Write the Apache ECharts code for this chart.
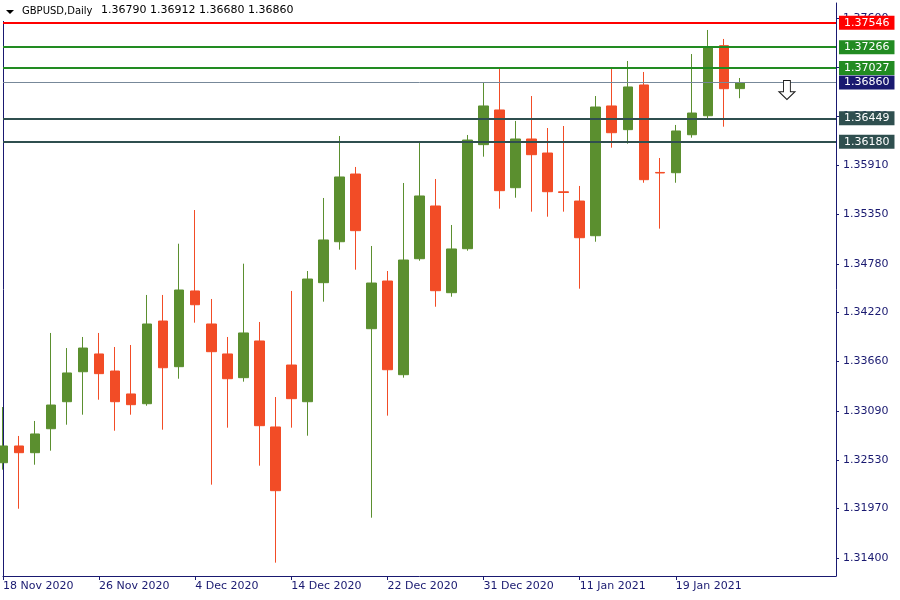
<!DOCTYPE html>
<html><head><meta charset="utf-8">
<script src="https://cdn.jsdelivr.net/npm/echarts@6/dist/echarts.min.js"></script>
<style>html,body{margin:0;padding:0;background:#fff}#c{width:900px;height:600px}</style>
</head><body><div id="c"></div>
<script>
const symbolName = 'GBPUSD,Daily';
const dates = ['18 Nov 2020','19 Nov 2020','20 Nov 2020','23 Nov 2020','24 Nov 2020','25 Nov 2020',
  '26 Nov 2020','27 Nov 2020','30 Nov 2020','1 Dec 2020','2 Dec 2020','3 Dec 2020',
  '4 Dec 2020','7 Dec 2020','8 Dec 2020','9 Dec 2020','10 Dec 2020','11 Dec 2020',
  '14 Dec 2020','15 Dec 2020','16 Dec 2020','17 Dec 2020','18 Dec 2020','21 Dec 2020',
  '22 Dec 2020','23 Dec 2020','24 Dec 2020','28 Dec 2020','29 Dec 2020','30 Dec 2020',
  '31 Dec 2020','4 Jan 2021','5 Jan 2021','6 Jan 2021','7 Jan 2021','8 Jan 2021',
  '11 Jan 2021','12 Jan 2021','13 Jan 2021','14 Jan 2021','15 Jan 2021','18 Jan 2021',
  '19 Jan 2021','20 Jan 2021','21 Jan 2021','22 Jan 2021','25 Jan 2021'];
const futureSlots = ['26 Jan 2021','27 Jan 2021','28 Jan 2021','29 Jan 2021','1 Feb 2021','2 Feb 2021'];
const opens = [1.32497,1.32689,1.32612,1.32887,1.33197,1.33541,1.33745,1.33549,1.33286,1.33174,1.34123,1.33599,
  1.34468,1.34089,1.33745,1.33473,1.33894,1.32907,1.33618,1.33197,1.34563,1.35033,1.35810,1.34035,
  1.34582,1.33507,1.34838,1.35443,1.34448,1.34953,1.36147,1.36545,1.35653,1.36212,1.36051,1.35606,
  1.35500,1.35102,1.36591,1.36319,1.36832,1.35828,1.35825,1.36261,1.36479,1.37283,1.36790];
const highs = [1.33136,1.32804,1.32976,1.33986,1.33813,1.33940,1.33986,1.33825,1.33848,1.34422,1.34422,1.35010,
  1.35397,1.34376,1.33940,1.34781,1.34112,1.33251,1.34468,1.34697,1.35535,1.36246,1.35891,1.34984,
  1.34697,1.35707,1.36189,1.35753,1.35225,1.36258,1.36855,1.37038,1.36419,1.36705,1.36338,1.36361,
  1.35673,1.36705,1.37015,1.37107,1.36981,1.35994,1.36373,1.37187,1.37463,1.37360,1.36912];
const lows = [1.32417,1.31969,1.32474,1.32635,1.32933,1.33048,1.33220,1.32864,1.33048,1.33151,1.32876,1.33461,
  1.34104,1.32245,1.32899,1.33427,1.32463,1.31350,1.32899,1.32807,1.34345,1.34942,1.34712,1.31866,
  1.33037,1.33473,1.34815,1.34287,1.34402,1.34930,1.36009,1.35412,1.35538,1.35378,1.35320,1.35378,
  1.34494,1.35033,1.36112,1.36158,1.35710,1.35183,1.35710,1.36227,1.36445,1.36353,1.36680];
const closes = [1.32689,1.32612,1.32827,1.33159,1.33527,1.33813,1.33519,1.33197,1.33163,1.34089,1.33587,1.34479,
  1.34310,1.33771,1.33461,1.33986,1.32922,1.32176,1.33232,1.34605,1.35053,1.35776,1.35160,1.34559,
  1.33564,1.34823,1.35558,1.34471,1.34950,1.36200,1.36591,1.35619,1.36212,1.36032,1.35607,1.35598,
  1.35079,1.36579,1.36284,1.36809,1.35745,1.35822,1.36304,1.36510,1.37260,1.36789,1.36860];
const xTickLabels = ['18 Nov 2020','26 Nov 2020','4 Dec 2020','14 Dec 2020','22 Dec 2020','31 Dec 2020','11 Jan 2021','19 Jan 2021'];
const yTickValues = [1.31400,1.31970,1.32530,1.33090,1.33660,1.34220,1.34780,1.35350,1.35910,1.36470,1.37030,1.37600];
const levelPrices = [1.37546,1.37266,1.37027,1.36449,1.36180];
const bidPrice = 1.36860;
const yMin = 1.311969, yMax = 1.377726;
const signalIndex = 49, signalPrice = 1.36774;

// styles
const levelColors = ['#ff0000','#228b22','#228b22','#2f4f4f','#2f4f4f'];
const bull = '#5b8f2f', bear = '#f24c26';
const axisColor = '#191970';
const font = 'DejaVu Sans';

const cats = dates.concat(futureSlots);
const candleData = dates.map((d,i)=>[opens[i],closes[i],lows[i],highs[i]]);
const last = dates.length-1;
const headerText = [opens[last],highs[last],lows[last],closes[last]].map(v=>v.toFixed(5)).join(' ');

const lineLabel = (bg)=>({show:true,position:'end',distance:3,formatter:p=>Number(p.value).toFixed(5),
  color:'#fff',backgroundColor:bg,fontFamily:font,fontSize:11,lineHeight:13,padding:[1,5,0,5]});

const mlData = [{yAxis:bidPrice,lineStyle:{color:'#778899',width:1,type:'solid'},label:lineLabel('#191970')}];
levelPrices.forEach((p,i)=>mlData.push({yAxis:p,lineStyle:{color:levelColors[i],width:2,type:'solid'},label:lineLabel(levelColors[i])}));

const chart = echarts.init(document.getElementById('c'),null,{renderer:'canvas'});
chart.setOption({
  animation:false,
  backgroundColor:'#fff',
  grid:{left:3,right:64,top:3,bottom:24,containLabel:false},
  xAxis:{type:'category',data:cats,boundaryGap:false,
    axisLine:{show:true,lineStyle:{color:axisColor,width:1}},
    axisTick:{show:true,interval:(i,v)=>xTickLabels.includes(v),length:4,lineStyle:{color:axisColor}},
    axisLabel:{interval:(i,v)=>xTickLabels.includes(v),align:'left',margin:5,color:axisColor,fontFamily:font,fontSize:11},
    splitLine:{show:false}},
  yAxis:[{type:'value',position:'right',min:yMin,max:yMax,
      axisLine:{show:true,lineStyle:{color:axisColor}},
      axisTick:{show:true,length:3,customValues:yTickValues,lineStyle:{color:axisColor}},
      axisLabel:{customValues:yTickValues,formatter:v=>v.toFixed(5),color:axisColor,fontFamily:font,fontSize:11,margin:7},
      splitLine:{show:false}},
    {type:'value',position:'left',min:yMin,max:yMax,
      axisLine:{show:true,lineStyle:{color:axisColor}},axisTick:{show:false},axisLabel:{show:false},splitLine:{show:false}}],
  series:[{type:'candlestick',data:candleData,barWidth:10,clip:true,
    itemStyle:{color:bull,color0:bear,borderColor:bull,borderColor0:bear,borderWidth:1},
    emphasis:{disabled:true},
    markLine:{silent:true,precision:5,symbol:['none','none'],animation:false,emphasis:{disabled:true},data:mlData},
    markPoint:{silent:true,animation:false,data:[{coord:[signalIndex,signalPrice],
      symbol:'path://M4,0 L10,0 L10,10 L14,10 L7,17 L0,10 L4,10 Z',symbolSize:[16,19],symbolOffset:[-1,0],
      itemStyle:{color:'#fff',borderColor:'#1c1c1c',borderWidth:1},label:{show:false}}]}
  }],
  graphic:[
    {type:'rect',left:0,top:0,shape:{width:300,height:21},style:{fill:'#fff'},z:100},
    {type:'polygon',shape:{points:[[6,10],[14,10],[10,14]]},style:{fill:'#000'},z:101},
    {type:'text',left:22,top:6,style:{text:symbolName,fill:'#000',font:'10px "DejaVu Sans"'},z:101},
    {type:'text',left:101,top:5,style:{text:headerText,fill:'#000',font:'11px "DejaVu Sans"'},z:101}
  ]
});
</script></body></html>
